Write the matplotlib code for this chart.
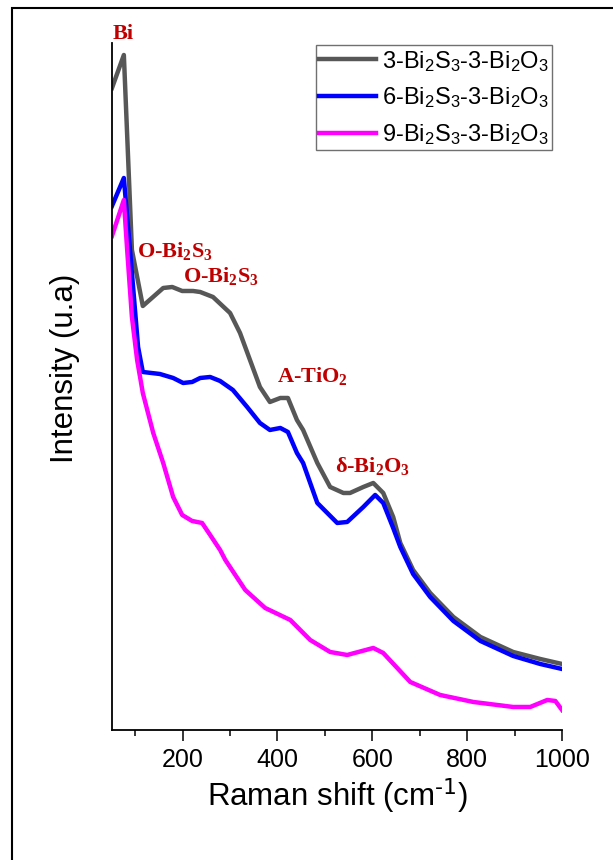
import numpy as np
import matplotlib
matplotlib.use('Agg')
import matplotlib.pyplot as plt
from matplotlib.patches import Rectangle
from matplotlib.ticker import MultipleLocator

plt.rcParams['font.family'] = ['Liberation Sans', 'DejaVu Sans']
plt.rcParams['mathtext.default'] = 'regular'

# Raman shift (cm-1) and intensity (a.u.)
shift_3 = [51, 76, 93, 116, 159, 178, 199, 222, 237, 264, 300, 321, 342, 363, 384,
           406, 422, 441, 454, 484, 511, 539, 553, 581, 602, 623, 644, 659, 686,
           722, 771, 828, 897, 954, 1000]
int_3 = [642, 675, 480, 424, 442, 443, 439, 439, 438, 433, 417, 397, 370, 343, 328,
         332, 332, 310, 300, 267, 243, 237, 237, 243, 247, 237, 213, 187, 160,
         137, 113, 93, 78, 71, 66]

shift_6 = [51, 76, 89, 106, 116, 152, 180, 201, 220, 237, 258, 279, 306, 336, 363,
           384, 406, 422, 441, 454, 484, 526, 547, 581, 606, 623, 644, 659, 686,
           722, 771, 828, 897, 954, 1000]
int_6 = [524, 552, 480, 383, 358, 356, 352, 347, 348, 352, 353, 349, 340, 323, 307,
         300, 302, 298, 277, 267, 227, 207, 208, 223, 235, 227, 202, 183, 156,
         133, 109, 89, 74, 66, 61]

shift_9 = [51, 76, 83, 93, 104, 116, 138, 159, 180, 199, 220, 241, 258, 279, 290,
           332, 374, 427, 469, 511, 547, 602, 623, 680, 743, 813, 897, 933, 969,
           986, 1000]
int_9 = [494, 530, 480, 413, 370, 337, 297, 267, 233, 215, 209, 207, 195, 180, 170,
         140, 122, 110, 90, 78, 75, 82, 77, 48, 35, 28, 23, 23, 30,
         29, 20]

labels = ['3-Bi$_2$S$_3$-3-Bi$_2$O$_3$',
          '6-Bi$_2$S$_3$-3-Bi$_2$O$_3$',
          '9-Bi$_2$S$_3$-3-Bi$_2$O$_3$']
colors = ['#575757', '#0000ff', '#ff00ff']

# peak assignments: (text, shift, intensity at baseline)
peak_names = ['Bi', 'O-Bi$_2$S$_3$', 'O-Bi$_2$S$_3$', 'A-TiO$_2$', 'δ-Bi$_2$O$_3$']
peak_x = [53, 104, 201, 399, 522]
peak_y = [691, 473, 448, 348, 258]

fig = plt.figure(figsize=(6.13, 8.60), dpi=100)
ax = fig.add_axes([0.1827, 0.1512, 0.7341, 0.7988])

for xs, ys, lab, c in zip([shift_3, shift_6, shift_9], [int_3, int_6, int_9], labels, colors):
    ax.plot(xs, ys, color=c, lw=3.2, label=lab, solid_joinstyle='round')

for name, px, py in zip(peak_names, peak_x, peak_y):
    ax.text(px, py, name, color='#c00000', fontsize=16, fontweight='bold',
            family=['Liberation Serif', 'DejaVu Serif'], ha='left', va='baseline',
            clip_on=False)

ax.set_xlim(51, 1000)
ax.set_ylim(0, 687)
ax.xaxis.set_major_locator(MultipleLocator(200))
ax.xaxis.set_minor_locator(MultipleLocator(100))
ax.set_yticks([])
ax.spines['top'].set_visible(False)
ax.spines['right'].set_visible(False)
for s in ['left', 'bottom']:
    ax.spines[s].set_linewidth(1.3)
ax.tick_params(axis='x', which='major', direction='out', length=8, width=1.1, labelsize=18, pad=5)
ax.tick_params(axis='x', which='minor', direction='out', length=4.5, width=1.1)

ax.set_xlabel(r'Raman shift (cm$^{\text{-1}}$)', fontsize=22.5, labelpad=3)
ax.set_ylabel('Intensity (u.a)', fontsize=22.5)
ax.yaxis.set_label_coords(-0.071, 0.527)

leg = ax.legend(loc='upper right', bbox_to_anchor=(0.978, 0.997), borderaxespad=0,
                fontsize=17, handlelength=2.4, handletextpad=0.25, borderpad=0.15,
                labelspacing=0.5, fancybox=False, framealpha=1)
leg.get_frame().set_edgecolor('#707070')
leg.get_frame().set_linewidth(1.0)

# outer frame around the figure (cut off on right and bottom)
fig.patches.append(Rectangle((12 / 613, -0.1), 1.2, (860 - 8) / 860 + 0.1,
                             transform=fig.transFigure, fill=False, lw=1.5,
                             edgecolor='black'))

fig.savefig('out.png', dpi=100)
